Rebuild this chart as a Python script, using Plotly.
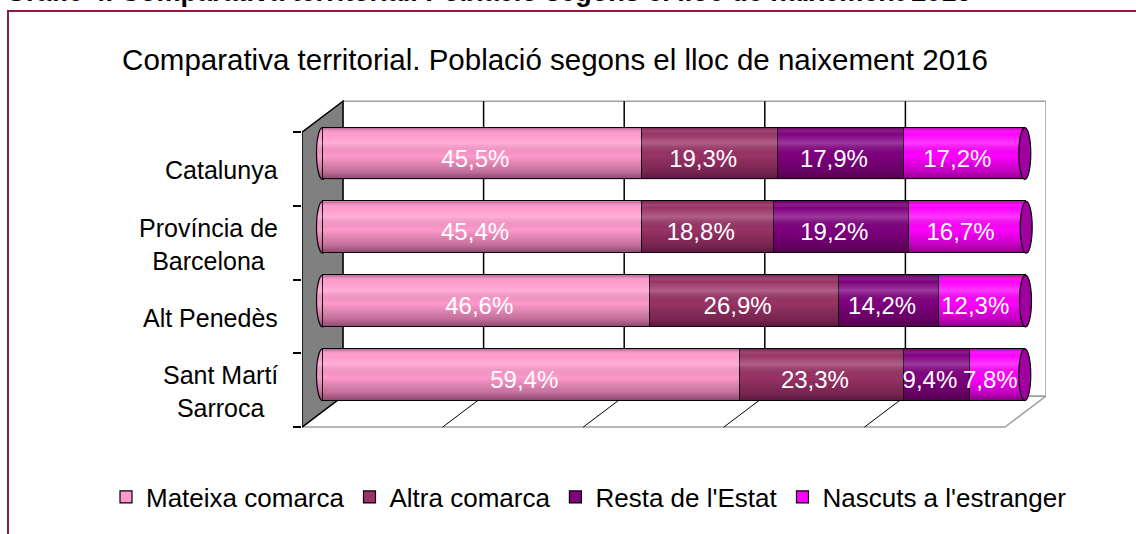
import numpy as np
import plotly.graph_objects as go

# ---------------- data ----------------
categories = ["Catalunya", "Província de<br>Barcelona", "Alt Penedès", "Sant Martí<br>Sarroca"]
series_names = ["Mateixa comarca", "Altra comarca", "Resta de l'Estat", "Nascuts a l'estranger"]
mateixa_comarca = [45.5, 45.4, 46.6, 59.4]
altra_comarca = [19.3, 18.8, 26.9, 23.3]
resta_estat = [17.9, 19.2, 14.2, 9.4]
nascuts_estranger = [17.2, 16.7, 12.3, 7.8]
grid_values = [20, 40, 60, 80]
chart_title = "Comparativa territorial. Població segons el lloc de naixement 2016"
heading = "Gràfic 4. Comparativa territorial. Població segons el lloc de naixement 2016"

# ---------------- style ----------------
colors = ["#FF99CC", "#993366", "#800080", "#FF00FF"]
cap_color = "#A000A0"
FONT = "Liberation Sans, Arial, sans-serif"
W, H = 1136, 534
L, R, T, B = 302, 90, 99, 106
X_RANGE = [-2.916, 102.916]
Y_RANGE = [3.722, -0.739]
DX, DY = 2.916, 0.21      # half depth of the 3D box in data units
BAR_W = 0.70
CAP_DX = 0.85
X_MAX = 100
N = len(categories)

series = [mateixa_comarca, altra_comarca, resta_estat, nascuts_estranger]
idx = np.arange(N)
totals = np.sum(np.array(series), axis=0)

fig = go.Figure()

# stacked bars
for name, vals, col in zip(series_names, series, colors):
    fig.add_trace(go.Bar(
        y=idx, x=vals, orientation="h", name=name, width=BAR_W,
        marker=dict(color=col, line=dict(color="black", width=1.2)),
        hoverinfo="skip",
    ))

# cylinder shading overlay
shade = [[0.0, "rgba(60,0,40,0.38)"], [0.12, "rgba(255,255,255,0.0)"],
         [0.30, "rgba(255,255,255,0.22)"], [0.55, "rgba(0,0,0,0.0)"],
         [0.85, "rgba(40,0,30,0.28)"], [1.0, "rgba(40,0,30,0.55)"]]
t = np.linspace(0, np.pi, 25)
for i in range(N):
    yc = idx[i]
    xs = list(-CAP_DX * np.sin(t)) + [totals[i], totals[i], 0]
    ys = list(yc - BAR_W / 2 * np.cos(t)) + [yc + BAR_W / 2, yc - BAR_W / 2, yc - BAR_W / 2]
    fig.add_trace(go.Scatter(
        x=xs, y=ys, mode="lines", fill="toself", line=dict(width=0),
        fillgradient=dict(type="vertical", colorscale=shade,
                          start=yc - BAR_W / 2, stop=yc + BAR_W / 2),
        showlegend=False, hoverinfo="skip",
    ))

# value labels
lx, ly, lt = [], [], []
for i in range(N):
    acc = 0.0
    for vals in series:
        lx.append(acc + vals[i] / 2 - 1.0)
        ly.append(idx[i] + 0.095)
        lt.append(f"{vals[i]:.1f}%".replace(".", ","))
        acc += vals[i]
fig.add_trace(go.Scatter(
    x=lx, y=ly, text=lt, mode="text", showlegend=False, hoverinfo="skip",
    textfont=dict(color="white", size=24, family=FONT), cliponaxis=False,
))

shapes = []
gray = "#A0A0A0"
# back wall
shapes.append(dict(type="rect", xref="x", yref="y", x0=0 + DX, x1=X_MAX + DX,
                   y0=-0.5 - DY, y1=N - 0.5 - DY, fillcolor="white",
                   line=dict(color=gray, width=1.5), layer="below"))
# floor
fy_b, fy_f = N - 0.5 - DY, N - 0.5 + DY
shapes.append(dict(type="path", xref="x", yref="y",
                   path=f"M{DX},{fy_b} L{X_MAX + DX},{fy_b} L{X_MAX - DX},{fy_f} L{-DX},{fy_f} Z",
                   fillcolor="white", line=dict(color=gray, width=1.5), layer="below"))
# gridlines on back wall and floor
for v in grid_values:
    shapes.append(dict(type="line", xref="x", yref="y", x0=v + DX, x1=v + DX,
                       y0=-0.5 - DY, y1=fy_b, line=dict(color="black", width=1.5), layer="below"))
    shapes.append(dict(type="line", xref="x", yref="y", x0=v + DX, x1=v - DX,
                       y0=fy_b, y1=fy_f, line=dict(color="black", width=1), layer="below"))
# left wall
shapes.append(dict(type="path", xref="x", yref="y",
                   path=f"M{DX},{-0.5 - DY} L{DX},{fy_b} L{-DX},{fy_f} L{-DX},{-0.5 + DY} Z",
                   fillcolor="#808080", line=dict(color="black", width=1.5), layer="below"))
# left caps of cylinders
for i in range(N):
    shapes.append(dict(type="circle", xref="x", yref="y", x0=-CAP_DX, x1=CAP_DX,
                       y0=idx[i] - BAR_W / 2, y1=idx[i] + BAR_W / 2,
                       fillcolor=colors[0], line=dict(color="black", width=1.2), layer="below"))
# right caps
for i in range(N):
    shapes.append(dict(type="circle", xref="x", yref="y", x0=totals[i] - CAP_DX, x1=totals[i] + CAP_DX,
                       y0=idx[i] - BAR_W / 2, y1=idx[i] + BAR_W / 2,
                       fillcolor=cap_color, line=dict(color="black", width=1.2), layer="above"))
# outer dark-red frame
pw, ph = W - L - R, H - T - B
shapes.append(dict(type="rect", xref="paper", yref="paper",
                   x0=(8 - L) / pw, x1=(W + 20 - L) / pw,
                   y0=(H - B - (H + 20)) / ph, y1=(H - B - 11) / ph,
                   line=dict(color="#8C1C3E", width=2), fillcolor="rgba(0,0,0,0)", layer="below"))

annotations = []
# category labels (front plane)
for i, c in enumerate(categories):
    annotations.append(dict(xref="x", yref="y", x=-DX, y=idx[i] + DY, text=c,
                            xanchor="right", yanchor="middle", align="center",
                            xshift=-22, yshift=-1.5,
                            showarrow=False, font=dict(size=25, color="black", family=FONT)))
# cut-off heading at the very top
annotations.append(dict(xref="paper", yref="paper", x=(3 - L) / pw, y=(H - B + 8) / ph,
                        text=f"<b>{heading}</b>", xanchor="left", yanchor="middle",
                        showarrow=False, font=dict(size=27, color="black", family=FONT)))

fig.update_layout(
    width=W, height=H, margin=dict(l=L, r=R, t=T, b=B),
    paper_bgcolor="white", plot_bgcolor="rgba(0,0,0,0)",
    barmode="stack", bargap=0,
    font=dict(family=FONT, color="black"),
    title=dict(text=chart_title, x=555 / W, xref="container", xanchor="center",
               y=1 - 60 / H, yref="container", yanchor="middle",
               font=dict(size=29.5, color="black", family=FONT)),
    xaxis=dict(range=X_RANGE, showgrid=False, zeroline=False, showticklabels=False,
               showline=False, fixedrange=True),
    yaxis=dict(range=Y_RANGE, showgrid=False, zeroline=False, showticklabels=False,
               showline=False, ticks="", fixedrange=True,
               minor=dict(tickvals=[i - 0.5 + DY for i in range(N + 1)], ticks="outside",
                          ticklen=8, tickcolor="black", tickwidth=1.5, showgrid=False)),
    legend=dict(orientation="h", xref="paper", x=(106 - L) / pw, xanchor="left",
                yref="paper", y=(H - B - 497) / ph, yanchor="middle",
                font=dict(size=26, color="black", family=FONT), itemwidth=30,
                bgcolor="rgba(0,0,0,0)", traceorder="normal"),
    shapes=shapes, annotations=annotations, showlegend=True,
)

fig.write_html("out.html", config={"displayModeBar": False},
               post_script="document.body.style.margin='0';")
